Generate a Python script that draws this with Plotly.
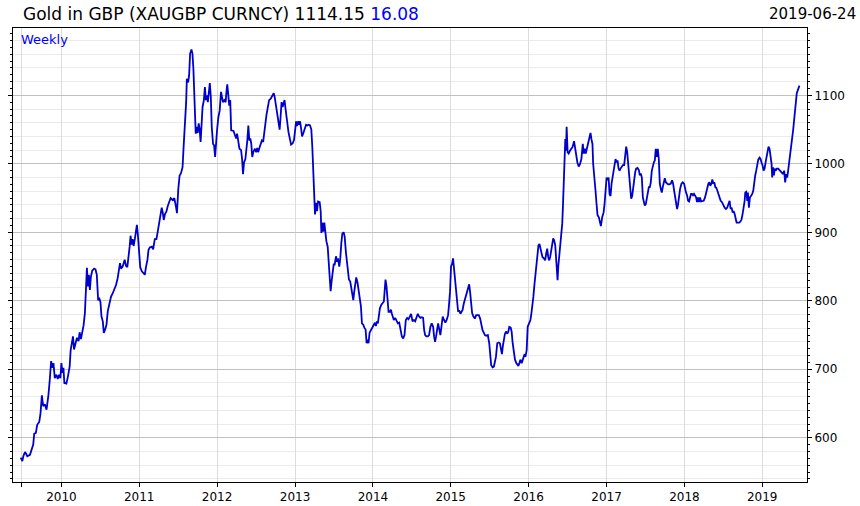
import plotly.graph_objects as go
import pandas as pd

# ---- data: time in decimal years, gold price in GBP per troy ounce (weekly closes) ----
t_2009_2011 = [2009.477, 2009.498, 2009.511, 2009.532, 2009.545, 2009.562, 2009.596, 2009.617, 2009.638, 2009.651,
               2009.672, 2009.689, 2009.715, 2009.732, 2009.749, 2009.766, 2009.787, 2009.809, 2009.821, 2009.834,
               2009.851, 2009.868, 2009.885, 2009.898, 2009.915, 2009.936, 2009.953, 2009.970, 2009.987, 2010.000,
               2010.013, 2010.026, 2010.038, 2010.064, 2010.085, 2010.106, 2010.119, 2010.136, 2010.149, 2010.162,
               2010.183, 2010.200, 2010.221, 2010.234, 2010.251, 2010.268, 2010.285, 2010.302, 2010.315, 2010.328,
               2010.340, 2010.353, 2010.366, 2010.379, 2010.396, 2010.421, 2010.438, 2010.455, 2010.472, 2010.489,
               2010.502, 2010.515, 2010.532, 2010.545, 2010.562, 2010.579, 2010.596, 2010.617, 2010.638, 2010.660,
               2010.681, 2010.702, 2010.723, 2010.736, 2010.753, 2010.766, 2010.787, 2010.813, 2010.830, 2010.847,
               2010.864, 2010.877, 2010.889, 2010.902, 2010.915, 2010.928, 2010.945, 2010.957, 2010.970, 2010.983,
               2011.000, 2011.013, 2011.034, 2011.055, 2011.072, 2011.085, 2011.106, 2011.119, 2011.136, 2011.162,
               2011.179, 2011.200, 2011.221, 2011.238, 2011.255, 2011.272, 2011.289, 2011.302, 2011.315, 2011.332,
               2011.349, 2011.366, 2011.383, 2011.404]
p_2009_2011 = [571, 566, 573, 579, 577, 573, 575, 581, 590, 606,
               607, 619, 623, 636, 662, 646, 649, 641, 651, 663,
               685, 712, 702, 709, 687, 692, 686, 692, 687, 709,
               695, 702, 680, 679, 690, 704, 728, 743, 748, 729,
               738, 746, 741, 754, 744, 754, 764, 782, 821, 848,
               821, 838, 816, 835, 844, 847, 846, 838, 801, 803,
               798, 777, 770, 753, 758, 765, 785, 797, 806, 811,
               816, 823, 833, 842, 855, 847, 850, 860, 851, 849,
               862, 879, 895, 882, 890, 880, 891, 899, 911, 896,
               874, 849, 843, 840, 838, 848, 860, 874, 878, 879,
               875, 890, 890, 901, 913, 925, 936, 929, 918, 927,
               930, 938, 945, 950]

t_2011_2012 = [2011.430, 2011.451, 2011.473, 2011.485, 2011.502, 2011.519, 2011.536, 2011.557, 2011.570, 2011.586,
               2011.603, 2011.612, 2011.629, 2011.641, 2011.654, 2011.671, 2011.684, 2011.696, 2011.709, 2011.717,
               2011.726, 2011.738, 2011.751, 2011.764, 2011.776, 2011.789, 2011.802, 2011.814, 2011.831, 2011.844,
               2011.857, 2011.869, 2011.882, 2011.895, 2011.907, 2011.920, 2011.932, 2011.949, 2011.962, 2011.975,
               2011.987, 2012.000, 2012.017, 2012.034, 2012.051, 2012.063, 2012.076, 2012.093, 2012.110, 2012.122,
               2012.131, 2012.143, 2012.156, 2012.169, 2012.181, 2012.211, 2012.228, 2012.245, 2012.257, 2012.270,
               2012.287, 2012.308, 2012.321, 2012.333, 2012.346, 2012.363, 2012.376, 2012.388, 2012.401, 2012.414,
               2012.426, 2012.439, 2012.451, 2012.464, 2012.485, 2012.502, 2012.515, 2012.527, 2012.540, 2012.557,
               2012.574, 2012.591, 2012.608, 2012.620, 2012.633, 2012.650, 2012.667, 2012.688, 2012.709, 2012.726,
               2012.738, 2012.751, 2012.764, 2012.776, 2012.789, 2012.802, 2012.814, 2012.827, 2012.840, 2012.852,
               2012.865, 2012.878, 2012.890, 2012.903, 2012.916]
p_2011_2012 = [947, 950, 937, 928, 963, 983, 986, 995, 1024, 1051,
               1090, 1124, 1119, 1129, 1161, 1167, 1161, 1139, 1102, 1063,
               1044, 1054, 1045, 1059, 1051, 1032, 1059, 1083, 1093, 1112,
               1093, 1100, 1090, 1107, 1118, 1098, 1054, 1029, 1027, 1010,
               1034, 1049, 1068, 1078, 1105, 1095, 1090, 1093, 1090, 1107,
               1116, 1102, 1085, 1093, 1049, 1048, 1041, 1037, 1044, 1032,
               1022, 1020, 1007, 985, 1002, 1007, 1020, 1034, 1056, 1034,
               1037, 1029, 1010, 1017, 1022, 1017, 1023, 1017, 1022, 1029,
               1034, 1032, 1044, 1059, 1071, 1085, 1093, 1095, 1099, 1103,
               1098, 1088, 1076, 1068, 1059, 1050, 1068, 1090, 1083, 1088,
               1093, 1080, 1068, 1059, 1046]

t_2013_2014 = [2012.949, 2012.970, 2012.987, 2013.000, 2013.013, 2013.026, 2013.038, 2013.051, 2013.064, 2013.077,
               2013.090, 2013.107, 2013.124, 2013.141, 2013.158, 2013.175, 2013.192, 2013.209, 2013.222, 2013.235,
               2013.248, 2013.256, 2013.269, 2013.282, 2013.295, 2013.316, 2013.329, 2013.338, 2013.350, 2013.363,
               2013.376, 2013.389, 2013.402, 2013.419, 2013.432, 2013.444, 2013.457, 2013.470, 2013.483, 2013.496,
               2013.509, 2013.526, 2013.538, 2013.551, 2013.568, 2013.581, 2013.594, 2013.607, 2013.624, 2013.637,
               2013.654, 2013.667, 2013.679, 2013.692, 2013.709, 2013.722, 2013.735, 2013.748, 2013.761, 2013.774,
               2013.786, 2013.803, 2013.816, 2013.833, 2013.846, 2013.859, 2013.876, 2013.893, 2013.906, 2013.919,
               2013.932, 2013.944, 2013.957, 2013.974, 2013.996, 2014.013, 2014.026, 2014.038, 2014.051, 2014.064,
               2014.077, 2014.090, 2014.107, 2014.124, 2014.141, 2014.154, 2014.162, 2014.175, 2014.188, 2014.201,
               2014.218, 2014.231, 2014.244, 2014.256, 2014.269, 2014.286, 2014.303, 2014.321, 2014.338, 2014.355,
               2014.372, 2014.389, 2014.406, 2014.423, 2014.440, 2014.457, 2014.474, 2014.491, 2014.509, 2014.526,
               2014.543, 2014.560, 2014.577, 2014.594, 2014.611, 2014.628, 2014.645, 2014.658, 2014.671, 2014.688,
               2014.705, 2014.722, 2014.739, 2014.756, 2014.774, 2014.786, 2014.799, 2014.812, 2014.825, 2014.838]
p_2013_2014 = [1028, 1030, 1035, 1052, 1062, 1055, 1062, 1057, 1062, 1052,
               1040, 1045, 1050, 1057, 1056, 1057, 1056, 1050, 1023, 991,
               957, 926, 943, 931, 945, 944, 931, 899, 914, 901,
               914, 896, 887, 879, 855, 836, 814, 829, 845, 853,
               853, 865, 857, 862, 850, 862, 884, 898, 900, 894,
               870, 857, 836, 831, 828, 816, 806, 801, 814, 826,
               834, 826, 814, 801, 792, 767, 765, 760, 758, 738,
               743, 738, 753, 757, 762, 765, 768, 763, 770, 767,
               777, 789, 794, 797, 799, 819, 831, 821, 806, 784,
               784, 787, 781, 775, 772, 775, 770, 767, 768, 760,
               748, 745, 750, 772, 775, 773, 777, 781, 770, 772,
               770, 775, 781, 777, 775, 776, 775, 758, 750, 748,
               748, 750, 762, 767, 762, 748, 740, 748, 758, 767]

t_2015_2016 = [2014.867, 2014.880, 2014.897, 2014.914, 2014.931, 2014.948, 2014.966, 2014.978, 2014.991, 2015.004,
               2015.017, 2015.030, 2015.043, 2015.056, 2015.069, 2015.082, 2015.095, 2015.108, 2015.125, 2015.138,
               2015.151, 2015.168, 2015.185, 2015.202, 2015.219, 2015.237, 2015.249, 2015.262, 2015.275, 2015.292,
               2015.310, 2015.327, 2015.344, 2015.361, 2015.378, 2015.391, 2015.409, 2015.426, 2015.439, 2015.456,
               2015.477, 2015.495, 2015.508, 2015.520, 2015.538, 2015.555, 2015.568, 2015.581, 2015.598, 2015.615,
               2015.632, 2015.645, 2015.658, 2015.671, 2015.684, 2015.697, 2015.710, 2015.727, 2015.740, 2015.753,
               2015.770, 2015.783, 2015.796, 2015.813, 2015.826, 2015.843, 2015.856, 2015.869, 2015.882, 2015.895,
               2015.912, 2015.929, 2015.946, 2015.963, 2015.976, 2015.989, 2016.006, 2016.024, 2016.037, 2016.049,
               2016.062, 2016.075, 2016.088, 2016.101, 2016.114, 2016.127, 2016.140, 2016.153, 2016.166, 2016.178,
               2016.196, 2016.213, 2016.226, 2016.239, 2016.252, 2016.265, 2016.277, 2016.290, 2016.303, 2016.316,
               2016.329, 2016.342, 2016.355, 2016.363, 2016.372, 2016.381, 2016.394, 2016.406, 2016.419, 2016.432,
               2016.441, 2016.449, 2016.458, 2016.471, 2016.480, 2016.488, 2016.501, 2016.514, 2016.531, 2016.548,
               2016.566, 2016.583, 2016.596, 2016.609, 2016.626, 2016.643, 2016.660, 2016.677, 2016.695, 2016.708,
               2016.720, 2016.733, 2016.746, 2016.759, 2016.776, 2016.794, 2016.806, 2016.819, 2016.828, 2016.841,
               2016.858, 2016.871, 2016.884, 2016.901]
p_2015_2016 = [750, 767, 777, 772, 768, 772, 779, 794, 813, 850,
               854, 862, 847, 825, 808, 791, 784, 786, 781, 784,
               786, 796, 803, 808, 818, 824, 813, 801, 782, 777,
               774, 779, 779, 779, 774, 765, 757, 753, 750, 749,
               750, 738, 721, 706, 703, 704, 711, 718, 738, 739,
               738, 731, 722, 735, 745, 752, 755, 752, 755, 762,
               761, 755, 738, 726, 714, 709, 706, 705, 709, 714,
               709, 716, 721, 720, 728, 762, 767, 772, 782, 791,
               806, 823, 840, 852, 869, 881, 883, 876, 869, 864,
               862, 859, 869, 876, 864, 859, 864, 876, 886, 891,
               888, 881, 859, 840, 830, 850, 864, 881, 898, 913,
               939, 973, 1012, 1036, 1019, 1054, 1017, 1015, 1019, 1022,
               1025, 1033, 1024, 1010, 1002, 996, 1000, 1007, 1029, 1015,
               1022, 1015, 1022, 1029, 1039, 1045, 1036, 1029, 1000, 976,
               961, 942, 925, 922]

t_2017_2019 = [2016.927, 2016.944, 2016.962, 2016.974, 2016.987, 2017.000, 2017.013, 2017.026, 2017.038, 2017.051,
               2017.064, 2017.077, 2017.090, 2017.103, 2017.115, 2017.128, 2017.141, 2017.154, 2017.167, 2017.179,
               2017.192, 2017.209, 2017.226, 2017.239, 2017.252, 2017.265, 2017.278, 2017.291, 2017.303, 2017.316,
               2017.329, 2017.342, 2017.355, 2017.368, 2017.380, 2017.397, 2017.415, 2017.427, 2017.440, 2017.453,
               2017.466, 2017.479, 2017.491, 2017.504, 2017.517, 2017.530, 2017.543, 2017.556, 2017.568, 2017.581,
               2017.594, 2017.607, 2017.620, 2017.632, 2017.645, 2017.658, 2017.671, 2017.684, 2017.697, 2017.709,
               2017.722, 2017.735, 2017.748, 2017.761, 2017.774, 2017.791, 2017.808, 2017.825, 2017.842, 2017.855,
               2017.868, 2017.880, 2017.893, 2017.906, 2017.919, 2017.932, 2017.944, 2017.962, 2017.979, 2017.996,
               2018.009, 2018.021, 2018.034, 2018.047, 2018.060, 2018.073, 2018.085, 2018.098, 2018.111, 2018.124,
               2018.137, 2018.150, 2018.162, 2018.175, 2018.188, 2018.201, 2018.214, 2018.231, 2018.248, 2018.265,
               2018.282, 2018.295, 2018.308, 2018.321, 2018.333, 2018.346, 2018.359, 2018.372, 2018.385, 2018.397,
               2018.410, 2018.423, 2018.436, 2018.449, 2018.466, 2018.483, 2018.500, 2018.517, 2018.534, 2018.551,
               2018.568, 2018.581, 2018.594, 2018.607, 2018.620, 2018.632, 2018.645, 2018.658, 2018.671, 2018.688,
               2018.705, 2018.722, 2018.735, 2018.748, 2018.761, 2018.774, 2018.782, 2018.795, 2018.808, 2018.816,
               2018.829, 2018.842, 2018.855, 2018.872, 2018.885, 2018.897, 2018.910, 2018.923, 2018.936, 2018.949,
               2018.966, 2018.979, 2018.991, 2019.004, 2019.017, 2019.030, 2019.043, 2019.056, 2019.068, 2019.081,
               2019.094, 2019.107, 2019.120, 2019.128, 2019.141, 2019.150, 2019.162, 2019.175, 2019.188, 2019.205,
               2019.222, 2019.239, 2019.256, 2019.269, 2019.282, 2019.295, 2019.308, 2019.321, 2019.333, 2019.346,
               2019.359, 2019.372, 2019.385, 2019.397, 2019.410, 2019.423, 2019.436, 2019.444, 2019.478]
p_2017_2019 = [909, 922, 929, 941, 961, 980, 976, 980, 956, 953,
               971, 980, 990, 996, 1007, 1002, 1005, 993, 990, 993,
               996, 998, 998, 1015, 1025, 1017, 998, 980, 958, 949,
               953, 966, 978, 988, 993, 994, 991, 983, 986, 980,
               951, 944, 939, 941, 951, 963, 966, 966, 973, 990,
               998, 1002, 1005, 1022, 1010, 1022, 1007, 971, 963, 958,
               966, 976, 979, 973, 971, 970, 970, 971, 976, 971,
               961, 951, 946, 934, 941, 954, 963, 971, 973, 971,
               963, 958, 954, 946, 945, 951, 956, 956, 954, 956,
               954, 951, 944, 951, 944, 951, 945, 945, 946, 951,
               958, 967, 971, 973, 968, 971, 977, 971, 973, 966,
               965, 961, 956, 951, 946, 944, 939, 936, 934, 936,
               942, 946, 934, 936, 929, 931, 927, 922, 914, 914,
               914, 916, 919, 927, 934, 946, 958, 959, 946, 958,
               936, 951, 953, 956, 961, 978, 983, 990, 1002, 1006,
               1009, 1007, 1002, 998, 990, 993, 1002, 1012, 1020, 1025,
               1022, 1012, 1000, 980, 995, 983, 993, 990, 993, 993,
               991, 989, 988, 985, 990, 973, 985, 980, 990, 1002,
               1007, 1020, 1037, 1049, 1064, 1076, 1088, 1103, 1114.15]

year_ticks = ["2009-06-29", "2010-01-01", "2011-01-01", "2012-01-01", "2013-01-01", "2014-01-01",
              "2015-01-01", "2016-01-01", "2017-01-01", "2018-01-01", "2019-01-01"]
year_labels = ["", "2010", "2011", "2012", "2013", "2014", "2015", "2016", "2017", "2018", "2019"]

last_price = "1114.15"
change = "16.08"
last_date = "2019-06-24"

# ---- build series ----
years = t_2009_2011 + t_2011_2012 + t_2013_2014 + t_2015_2016 + t_2017_2019
prices = p_2009_2011 + p_2011_2012 + p_2013_2014 + p_2015_2016 + p_2017_2019


def to_ts(t):
    y = int(t)
    start = pd.Timestamp(year=y, month=1, day=1)
    ndays = (pd.Timestamp(year=y + 1, month=1, day=1) - start).days
    return start + pd.Timedelta(days=(t - y) * ndays)


dates = [to_ts(t) for t in years]

Y_RANGE = [535.4, 1198.3]
X_RANGE = ["2009-05-19", "2019-07-30"]
FONT = "DejaVu Sans"

fig = go.Figure()
fig.add_trace(go.Scatter(x=dates, y=prices, mode="lines",
                         line=dict(color="#0000cc", width=1.8),
                         hoverinfo="skip", showlegend=False))
# helper (invisible) trace carrying the fine 10-unit tick axis
fig.add_trace(go.Scatter(x=[dates[0]], y=[prices[0]], yaxis="y2", mode="none",
                         hoverinfo="skip", showlegend=False))

fig.update_layout(
    width=860, height=506,
    margin=dict(l=13, r=53, t=28, b=24, autoexpand=False),
    paper_bgcolor="white", plot_bgcolor="white",
    showlegend=False,
    font=dict(family=FONT, size=12, color="black"),
    xaxis=dict(type="date", range=X_RANGE, automargin=False,
               tickmode="array", tickvals=year_ticks, ticktext=year_labels,
               ticks="outside", ticklen=4, tickcolor="black", tickwidth=1,
               ticklabelstandoff=0,
               showline=True, linecolor="black", linewidth=1, mirror=True,
               showgrid=True, gridcolor="#dcdcdc", gridwidth=1,
               zeroline=False, tickfont=dict(family=FONT, size=12, color="black")),
    yaxis=dict(side="right", range=Y_RANGE, tick0=0, dtick=100, automargin=False,
               ticks="outside", ticklen=4, tickcolor="black", tickwidth=1,
               showline=True, linecolor="black", linewidth=1, mirror="ticks",
               showgrid=True, gridcolor="#c0c0c0", gridwidth=1,
               minor=dict(tick0=0, dtick=20, showgrid=True, gridcolor="#ebebeb", ticks=""),
               zeroline=False, tickfont=dict(family=FONT, size=12, color="black")),
    yaxis2=dict(overlaying="y", side="right", range=Y_RANGE, tick0=0, dtick=10, automargin=False,
                ticks="outside", ticklen=2, tickcolor="black", tickwidth=1,
                mirror="ticks", showline=False, showgrid=False,
                showticklabels=False, zeroline=False),
    annotations=[
        dict(text=f"Gold in GBP (XAUGBP CURNCY) {last_price} <span style='color:#0000ff'>{change}</span>",
             xref="paper", yref="paper", x=0.010, y=1.030, xanchor="left", yanchor="middle",
             showarrow=False, font=dict(family=FONT, size=17, color="black")),
        dict(text=last_date, xref="paper", yref="paper", x=1.064, y=1.030,
             xanchor="right", yanchor="middle", showarrow=False,
             font=dict(family=FONT, size=15, color="black")),
        dict(text="Weekly", xref="paper", yref="paper", x=0.008, y=0.9747,
             xanchor="left", yanchor="middle", showarrow=False,
             font=dict(family=FONT, size=13, color="#0000ff")),
    ],
)

fig.write_html("out.html",
               config={"displayModeBar": False, "staticPlot": True},
               post_script="document.body.style.margin='0';document.body.style.overflow='hidden';")
